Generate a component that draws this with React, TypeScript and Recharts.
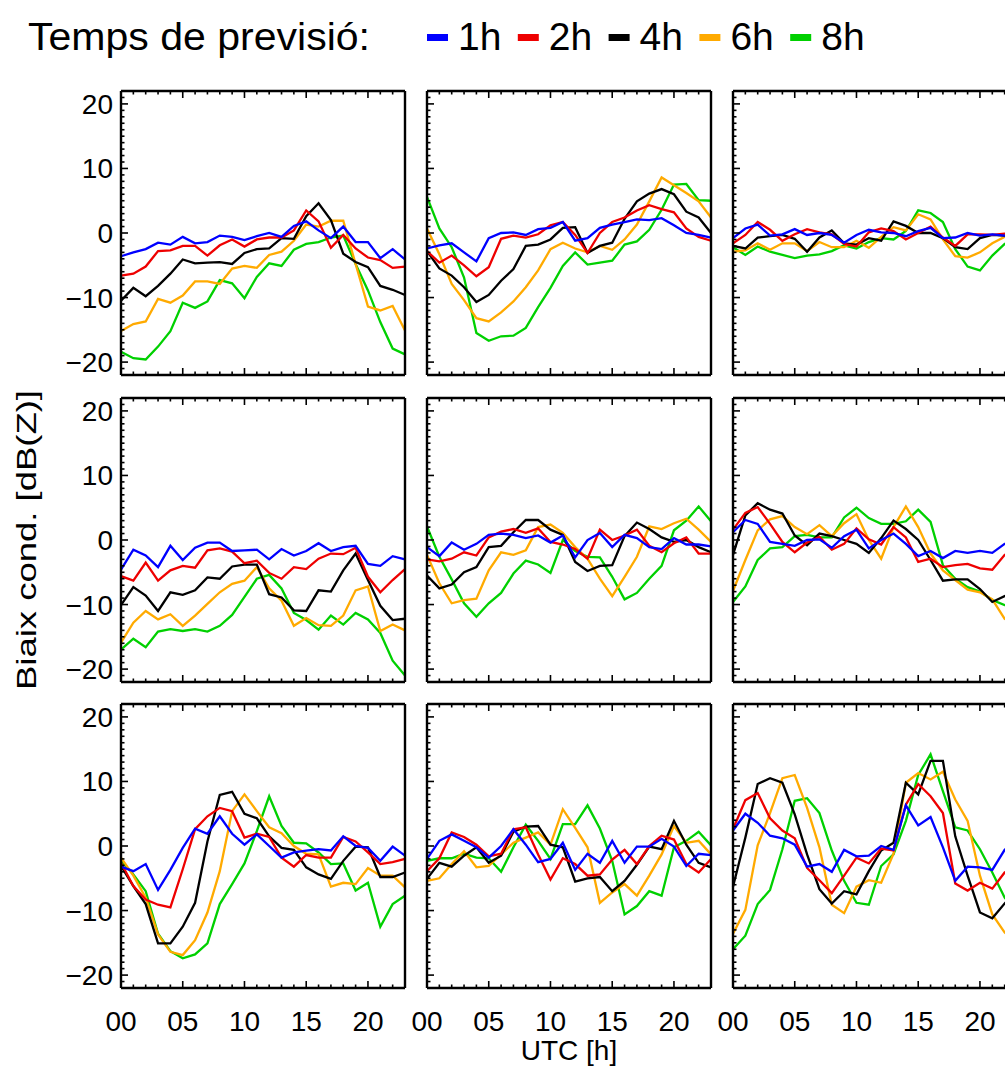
import { LineChart, Line, XAxis, YAxis } from "recharts";

const HOURS = [0, 1, 2, 3, 4, 5, 6, 7, 8, 9, 10, 11, 12, 13, 14, 15, 16, 17, 18, 19, 20, 21, 22, 23];
const Y_TICKS = [
  -21, -20, -19, -18, -17, -16, -15, -14, -13, -12, -11, -10, -9, -8, -7, -6, -5, -4, -3, -2, -1, 0,
  1, 2, 3, 4, 5, 6, 7, 8, 9, 10, 11, 12, 13, 14, 15, 16, 17, 18, 19, 20, 21,
];
const LEADS = ["1h", "2h", "4h", "6h", "8h"];
const COLORS = ["#0000ff", "#ee0000", "#000000", "#ffaa00", "#00d000"];

// row 1
const R1C1_1H = [-3.6, -3.0, -2.5, -1.5, -1.8, -0.6, -1.6, -1.4, -0.4, -0.6, -1.1, -0.5, 0, -0.6, 1.1, 1.8, 0.4, -0.8, 1.0, -1.4, -1.4, -3.9, -2.5, -4.1];
const R1C1_2H = [-6.6, -6.3, -5.2, -2.8, -2.7, -2.0, -2.0, -3.5, -1.9, -1.0, -2.1, -1.0, -0.7, -0.7, 0.4, 3.5, 1.8, -2.3, -0.3, -2.4, -3.8, -4.2, -5.4, -5.2];
const R1C1_4H = [-10.5, -8.5, -9.8, -8.2, -6.3, -4.1, -4.7, -4.6, -4.5, -4.8, -3.1, -2.5, -2.4, -0.8, -0.9, 2.6, 4.6, 2.0, -3.2, -4.5, -5.3, -8.2, -8.8, -9.6];
const R1C1_6H = [-15.2, -14.1, -13.7, -10.2, -10.8, -9.7, -7.5, -7.5, -7.9, -5.5, -5.1, -5.4, -3.4, -2.9, -1.2, 1.3, 1.0, 1.9, 1.9, -4.8, -11.4, -12.0, -11.3, -15.1];
const R1C1_8H = [-18.4, -19.4, -19.6, -17.6, -15.2, -10.8, -11.6, -10.6, -7.3, -7.8, -10.1, -6.8, -4.7, -5.1, -2.6, -1.7, -1.4, -0.7, -0.4, -4.8, -8.9, -13.8, -17.9, -18.8];

const R1C2_1H = [-2.4, -1.9, -1.6, -3.0, -4.4, -0.8, 0, 0.1, -0.3, 0.6, 0.8, 1.7, -1.2, -0.8, 0.8, 1.3, 1.7, 2.1, 2.0, 2.3, 1.2, 0, -0.3, -0.7];
const R1C2_2H = [-2.8, -4.6, -3.5, -5.0, -6.7, -5.3, -0.9, -0.4, -0.7, -0.2, 1.2, 1.7, -0.3, -3.1, 0, 1.7, 2.4, 3.5, 4.3, 3.7, 3.2, 0.7, -0.6, -1.2];
const R1C2_4H = [-2.8, -5.5, -6.6, -8.4, -10.7, -9.6, -7.4, -5.6, -2.0, -1.8, -1.0, 0.8, 0.9, -3.1, -2.0, -1.5, 2.2, 4.9, 6.1, 6.8, 6.0, 3.3, 2.4, 0];
const R1C2_6H = [0.7, -3.3, -7.9, -10.4, -13.2, -13.7, -12.3, -10.6, -8.4, -5.8, -2.5, -1.5, -2.4, -3.0, -2.0, -2.6, -1.0, 1.3, 4.9, 8.6, 7.4, 6.2, 4.9, 2.4];
const R1C2_8H = [5.6, 0.7, -2.2, -6.9, -15.5, -16.7, -16.0, -15.9, -14.7, -11.5, -8.5, -5.1, -3.0, -4.9, -4.6, -4.3, -1.8, -1.3, 0.5, 3.6, 7.5, 7.6, 5.1, 5.0];

const R1C3_1H = [-0.8, 0.7, 1.3, -0.4, -0.2, 0.6, -0.3, 0, -0.3, -1.5, -0.3, 0.5, 0.1, 0, -0.5, 0.3, 0.8, -0.8, -0.7, 0, -0.4, -0.2, -0.4, -0.3];
const R1C3_2H = [-1.6, -0.3, 1.7, 0.5, -1.2, -0.2, 0.6, 0.1, -0.2, -1.7, -2.1, 0.1, 0.7, 0.3, -1.0, 0, 1.0, -0.7, -2.0, -0.2, -0.2, -0.3, -0.1, 0];
const R1C3_4H = [-2.0, -2.4, -0.7, -0.5, -0.3, -0.9, -2.9, -0.7, 0.4, -1.6, -1.8, -0.8, -1.2, 1.8, 1.1, 0, 0, -0.8, -2.2, -2.5, -0.8, -0.3, -0.4, -0.5];
const R1C3_6H = [-2.9, -2.7, -1.6, -2.6, -1.6, -1.6, -2.8, -1.4, -2.2, -2.2, -1.2, -2.3, -0.6, 0.9, 0.4, 2.9, 2.1, -1.0, -3.6, -3.8, -3.0, -1.6, -0.6, 0];
const R1C3_8H = [-2.2, -3.4, -2.1, -2.9, -3.4, -3.9, -3.5, -3.3, -2.8, -1.9, -2.4, -1.4, -0.8, -1.0, 0.3, 3.5, 3.1, 1.7, -2.5, -5.2, -5.8, -3.5, -1.7, -0.5];

// row 2
const R2C1_1H = [-4.6, -1.5, -2.4, -4.2, -0.9, -3.1, -1.2, -0.4, -0.4, -1.7, -1.6, -1.5, -3.0, -1.4, -2.4, -1.7, -0.5, -1.7, -1.1, -0.9, -3.7, -4.0, -2.5, -3.0];
const R2C1_2H = [-5.6, -6.3, -3.5, -6.3, -4.7, -4.0, -4.3, -1.6, -1.3, -1.8, -3.6, -3.2, -5.1, -6.0, -4.2, -4.5, -2.9, -2.1, -2.2, -1.2, -5.7, -8.1, -6.2, -4.5];
const R2C1_4H = [-10.1, -7.3, -8.6, -11.0, -8.1, -8.5, -7.8, -5.8, -6.0, -4.1, -3.8, -3.8, -8.4, -8.9, -10.9, -11.0, -7.8, -8.0, -4.7, -2.1, -6.2, -10.2, -12.4, -12.2];
const R2C1_6H = [-15.9, -12.8, -11.0, -12.3, -11.5, -13.3, -11.7, -9.9, -8.1, -6.8, -6.3, -4.2, -7.5, -9.4, -13.3, -12.1, -13.2, -13.3, -11.7, -7.8, -7.2, -14.1, -13.1, -14.0];
const R2C1_8H = [-17.0, -15.3, -16.6, -14.2, -13.8, -14.1, -13.8, -14.2, -13.3, -11.6, -8.8, -6.0, -5.4, -7.5, -11.3, -12.4, -13.9, -11.7, -13.1, -11.3, -12.3, -14.4, -18.7, -21.0];

const R2C2_1H = [-1.1, -2.5, -0.4, -1.5, -0.6, 0.8, 1.0, 0.8, 0.3, 0.7, -0.4, 0.7, -2.7, 0, 1.1, -1.1, 0.8, 0.3, -1.1, -1.4, 0.3, -0.7, -0.7, -1.0];
const R2C2_2H = [-3.0, -3.3, -2.9, -1.9, -2.4, 0.4, 1.3, 1.7, 1.1, 1.8, -0.3, -0.7, -1.4, -2.9, 1.6, 0, 0.7, 1.6, -0.9, -1.9, -0.5, 0.4, -2.1, -2.1];
const R2C2_4H = [-5.5, -7.5, -6.9, -5.0, -4.2, -1.1, -0.9, 1.2, 3.1, 3.1, 1.6, 0.8, -3.4, -4.8, -4.0, -3.9, 0.6, 2.7, 1.7, 0.4, -0.3, 0, -1.1, -1.9];
const R2C2_6H = [-2.3, -6.7, -9.8, -9.3, -9.1, -4.7, -1.9, -2.3, -1.6, 2.0, 2.4, 1.1, -1.1, -2.9, -6.0, -8.7, -5.7, -2.6, 2.1, 1.7, 2.6, 3.3, 1.6, -0.3];
const R2C2_8H = [2.1, -2.6, -6.1, -9.8, -11.9, -9.8, -8.2, -5.2, -3.2, -3.8, -5.1, 0, -1.7, -2.6, -2.7, -5.7, -9.2, -8.2, -6.0, -4.0, 1.5, 3.0, 5.2, 2.9];

const R2C3_1H = [1.2, 3.1, 2.5, -0.3, -0.6, -0.9, 0, 0.1, -1.2, 0.6, 1.6, -1.3, 0, 1.0, -0.6, -2.5, -1.7, -2.8, -1.7, -2.0, -1.7, -2.0, -0.6, -0.5];
const R2C3_2H = [1.6, 4.2, 5.1, 2.5, -0.3, -1.9, -0.4, 0.5, -1.5, -0.6, 1.8, 0.1, -0.7, 2.0, 0.4, -3.4, -2.9, -4.2, -3.9, -3.7, -4.4, -4.6, -2.3, -1.5];
const R2C3_4H = [-2.3, 3.8, 5.7, 4.7, 4.1, 0.7, -0.8, 1.0, 0.6, 0, -0.6, -2.0, 0.3, 3.0, 1.7, 0, -3.1, -6.3, -6.1, -6.1, -7.6, -9.6, -8.7, -8.0];
const R2C3_6H = [-7.9, -3.1, 1.5, 3.2, 3.7, 2.0, 0.9, 2.3, 0.6, 2.6, 4.0, 0, -2.9, 2.0, 5.2, 2.0, -2.1, -4.7, -6.2, -7.7, -8.1, -9.2, -12.2, -13.0];
const R2C3_8H = [-9.6, -7.2, -3.1, -1.3, -1.1, 0.6, 0.8, 0.4, 0.4, 3.5, 5.0, 3.4, 2.5, 2.5, 2.9, 4.7, 2.8, -3.9, -6.0, -7.3, -8.0, -9.3, -10.1, -10.0];

// row 3
const R3C1_1H = [-3.2, -3.9, -2.8, -6.8, -3.7, -0.3, 2.7, 1.9, 4.6, 1.9, 0.2, 1.8, 0, -1.8, -1.0, -0.7, -0.5, -0.7, 1.5, 0, -0.3, -2.3, -0.1, -1.5];
const R3C1_2H = [-2.6, -6.2, -8.3, -9.1, -9.5, -3.6, 2.6, 4.6, 5.9, 5.4, 1.3, 1.9, 1.4, -1.8, -3.2, -1.4, -1.8, -1.8, 1.4, 0.7, -1.0, -2.8, -2.5, -2.0];
const R3C1_4H = [-3.1, -6.2, -9.0, -15.1, -15.1, -12.5, -8.8, 0.7, 7.9, 8.4, 5.0, 4.3, 1.5, -0.3, -0.6, -3.3, -4.4, -5.1, -2.3, -0.1, -0.2, -4.8, -4.8, -4.1];
const R3C1_6H = [-1.8, -4.6, -8.0, -13.7, -16.4, -16.9, -14.6, -10.3, -3.9, 5.4, 8.0, 5.4, 2.9, 2.0, 0, -1.2, -1.3, -6.3, -5.7, -5.9, -3.4, -4.6, -4.6, -6.4];
const R3C1_8H = [-2.3, -4.4, -7.0, -13.6, -16.3, -17.4, -16.8, -15.1, -9.0, -5.9, -2.7, 2.3, 7.7, 3.1, 0.5, 0.4, -1.0, -2.8, -2.7, -6.9, -5.7, -12.5, -9.0, -7.7];

const R3C2_1H = [-2.0, 0.8, 1.8, 0.8, -0.2, -1.8, 0, 2.6, 0.2, -2.5, -2.0, 0.5, -3.7, -1.2, -2.6, 0.8, -2.6, -0.1, -0.1, 1.1, -0.1, -3.1, -1.2, -1.4];
const R3C2_2H = [-3.9, -1.9, 2.1, 1.4, 0.2, -1.6, -1.2, 2.6, 2.9, -1.3, -5.2, -1.9, -2.8, -4.6, -4.4, -2.1, -0.6, -2.8, 0, 1.6, 1.0, -2.8, -4.1, -2.0];
const R3C2_4H = [-5.1, -2.6, -3.2, -1.5, -0.2, -2.6, -1.5, 2.2, 3.0, 3.1, 0.2, -0.2, -5.5, -5.0, -4.8, -7.0, -5.4, -2.9, -0.1, -0.5, 3.9, 0.2, -2.6, -3.3];
const R3C2_6H = [-5.4, -5.0, -2.8, -0.8, -3.3, -3.1, -1.3, 0.5, 1.3, 2.1, 0.2, 5.7, 2.8, -0.2, -8.8, -7.2, -5.9, -7.7, -4.6, -1.3, 3.1, 0.5, 0.8, -1.3];
const R3C2_8H = [-2.3, -1.9, -1.9, -1.2, -1.8, -1.9, -4.0, -0.2, 3.3, 0.8, -2.0, 3.4, 3.4, 6.3, 2.7, -2.3, -10.6, -9.3, -7.0, -7.7, -0.2, 0.8, 2.2, 0.1];

const R3C3_1H = [2.4, 5.0, 3.6, 1.6, 1.2, 0.2, -3.2, -2.8, -4.0, -0.6, -1.6, -1.5, 0, -0.6, 6.3, 3.2, 4.5, -0.2, -5.4, -3.2, -3.3, -3.7, -0.6, 1.0];
const R3C3_2H = [2.6, 7.1, 8.2, 4.3, 2.4, 1.2, -3.4, -5.3, -7.3, -4.6, -1.8, -2.7, -0.4, -0.7, 6.4, 9.6, 7.7, 5.1, -5.8, -6.9, -5.7, -6.6, -4.1, -3.0];
const R3C3_4H = [-6.3, 1.3, 9.6, 10.5, 9.8, 4.9, -1.3, -6.7, -8.9, -7.0, -7.5, -3.9, -0.7, 0.5, 9.8, 8.0, 13.2, 13.2, 1.5, -4.6, -10.3, -11.2, -8.9, -7.0];
const R3C3_6H = [-13.6, -9.9, 0.1, 5.1, 10.5, 11.0, 5.9, -0.2, -9.1, -10.4, -6.3, -5.3, -5.7, -1.2, 9.8, 11.3, 10.3, 11.5, 7.2, 3.9, -4.6, -10.6, -13.4, -15.0];
const R3C3_8H = [-16.0, -13.9, -9.0, -6.8, -0.5, 7.0, 7.4, 5.1, -0.7, -5.4, -8.8, -9.1, -3.1, -1.3, 3.9, 11.0, 14.2, 8.5, 2.9, 2.4, -0.5, -4.1, -8.0, -10.0];

const PANEL_SERIES = [
  [R1C1_1H, R1C1_2H, R1C1_4H, R1C1_6H, R1C1_8H],
  [R1C2_1H, R1C2_2H, R1C2_4H, R1C2_6H, R1C2_8H],
  [R1C3_1H, R1C3_2H, R1C3_4H, R1C3_6H, R1C3_8H],
  [R2C1_1H, R2C1_2H, R2C1_4H, R2C1_6H, R2C1_8H],
  [R2C2_1H, R2C2_2H, R2C2_4H, R2C2_6H, R2C2_8H],
  [R2C3_1H, R2C3_2H, R2C3_4H, R2C3_6H, R2C3_8H],
  [R3C1_1H, R3C1_2H, R3C1_4H, R3C1_6H, R3C1_8H],
  [R3C2_1H, R3C2_2H, R3C2_4H, R3C2_6H, R3C2_8H],
  [R3C3_1H, R3C3_2H, R3C3_4H, R3C3_6H, R3C3_8H],
];

const FONT = "'Liberation Sans', Arial, Helvetica, sans-serif";
const PLOT = 284;
const COL_X = [121, 427, 733];
const ROW_Y = [91, 398, 704];
const PAD_L = 60;
const PAD_T = 10;
const PAD_R = 10;
const PAD_B = 60;
const MAJOR = 7;
const MINOR = 3.5;

const fmtHour = (h: number) => String(h).padStart(2, "0");
const fmtY = (v: number) => (v < 0 ? "\u2212" + Math.abs(v) : String(v));

function Panel({ series, row, col }: { series: number[][]; row: number; col: number }) {
  const data = HOURS.map((h, i) => {
    const d: Record<string, number> = { hour: h };
    LEADS.forEach((k, s) => (d[k] = series[s][i]));
    return d;
  });
  const showX = row === 2;
  const showY = col === 0;

  // eslint-disable-next-line @typescript-eslint/no-explicit-any
  const bottomTick = (p: any) => {
    const v = p.payload.value;
    const major = v % 5 === 0;
    return (
      <g>
        <line x1={p.x} y1={p.y} x2={p.x} y2={p.y - (major ? MAJOR : MINOR)} stroke="#000" strokeWidth={1.6} />
        {showX && major && (
          <text x={p.x} y={p.y + 43} textAnchor="middle" fontSize={28} fontFamily={FONT} fill="#000">
            {fmtHour(v)}
          </text>
        )}
      </g>
    );
  };
  // eslint-disable-next-line @typescript-eslint/no-explicit-any
  const topTick = (p: any) => {
    const major = p.payload.value % 5 === 0;
    return <line x1={p.x} y1={p.y} x2={p.x} y2={p.y + (major ? MAJOR : MINOR)} stroke="#000" strokeWidth={1.6} />;
  };
  // eslint-disable-next-line @typescript-eslint/no-explicit-any
  const leftTick = (p: any) => {
    const v = p.payload.value;
    const major = v % 10 === 0;
    return (
      <g>
        <line x1={p.x} y1={p.y} x2={p.x + (major ? MAJOR : MINOR)} y2={p.y} stroke="#000" strokeWidth={1.6} />
        {showY && major && (
          <text x={p.x - 8} y={p.y + 10} textAnchor="end" fontSize={28} fontFamily={FONT} fill="#000">
            {fmtY(v)}
          </text>
        )}
      </g>
    );
  };
  // eslint-disable-next-line @typescript-eslint/no-explicit-any
  const rightTick = (p: any) => {
    const major = p.payload.value % 10 === 0;
    return <line x1={p.x} y1={p.y} x2={p.x - (major ? MAJOR : MINOR)} y2={p.y} stroke="#000" strokeWidth={1.6} />;
  };

  const axisLine = { stroke: "#000", strokeWidth: 2.4 };
  const order = [4, 3, 2, 1, 0];

  return (
    <div style={{ position: "absolute", left: COL_X[col] - PAD_L, top: ROW_Y[row] - PAD_T }}>
      <LineChart
        width={PAD_L + PLOT + PAD_R}
        height={PAD_T + PLOT + PAD_B}
        data={data}
        margin={{ top: 0, right: 0, bottom: 0, left: 0 }}
      >
        <XAxis xAxisId="b" dataKey="hour" type="number" domain={[0, 23]} ticks={HOURS} interval={0}
          orientation="bottom" height={PAD_B} tickSize={0} tickMargin={0} axisLine={axisLine} tick={bottomTick} />
        <XAxis xAxisId="t" dataKey="hour" type="number" domain={[0, 23]} ticks={HOURS} interval={0}
          orientation="top" height={PAD_T} tickSize={0} tickMargin={0} axisLine={axisLine} tick={topTick} />
        <YAxis yAxisId="l" type="number" domain={[-22, 22]} ticks={Y_TICKS} interval={0}
          orientation="left" width={PAD_L} tickSize={0} tickMargin={0} axisLine={axisLine} tick={leftTick} />
        <YAxis yAxisId="r" type="number" domain={[-22, 22]} ticks={Y_TICKS} interval={0}
          orientation="right" width={PAD_R} tickSize={0} tickMargin={0} axisLine={axisLine} tick={rightTick} />
        {order.map((s) => (
          <Line
            key={LEADS[s]}
            xAxisId="b"
            yAxisId="l"
            dataKey={LEADS[s]}
            stroke={COLORS[s]}
            strokeWidth={2.3}
            dot={false}
            activeDot={false}
            isAnimationActive={false}
          />
        ))}
      </LineChart>
    </div>
  );
}

export default function App() {
  return (
    <div
      style={{
        position: "fixed",
        left: 0,
        top: 0,
        width: 1005,
        height: 1066,
        overflow: "hidden",
        background: "#fff",
        fontFamily: FONT,
      }}
    >
      <svg width={1005} height={1066} style={{ position: "absolute", left: 0, top: 0 }}>
        <text x={28} y={50} fontSize={39} fontFamily={FONT} fill="#000" textLength={342} lengthAdjust="spacingAndGlyphs">
          Temps de previsió:
        </text>
        {LEADS.map((k, i) => (
          <g key={k}>
            <rect x={427 + i * 90.8} y={34} width={21} height={7} fill={COLORS[i]} />
            <text x={458 + i * 90.8} y={50} fontSize={39} fontFamily={FONT} fill="#000">
              {k}
            </text>
          </g>
        ))}
        <text
          x={0}
          y={0}
          transform="translate(36, 540) rotate(-90)"
          textAnchor="middle"
          fontSize={27}
          fontFamily={FONT}
          fill="#000"
          textLength={300}
          lengthAdjust="spacingAndGlyphs"
        >
          Biaix cond. [dB(Z)]
        </text>
        <text x={569} y={1060} textAnchor="middle" fontSize={28} fontFamily={FONT} fill="#000">
          UTC [h]
        </text>
      </svg>
      {PANEL_SERIES.map((series, i) => (
        <Panel key={i} series={series} row={Math.floor(i / 3)} col={i % 3} />
      ))}
    </div>
  );
}
